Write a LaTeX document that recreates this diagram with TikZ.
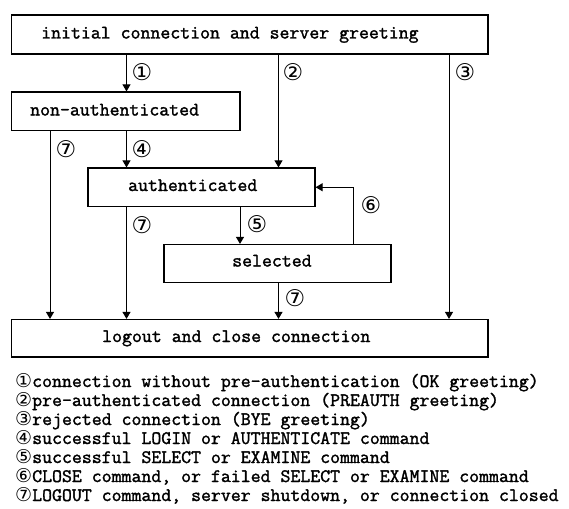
\documentclass[tikz,border=0pt]{standalone}
\usepackage{fontspec}
\usetikzlibrary{arrows.meta}
\newfontfamily\monof[FakeBold=1.6,FakeStretch=1.015]{Latin Modern Mono}
\newfontfamily\circf{DejaVu Sans}
\newcommand{\mtxt}{\monof\fontsize{19pt}{19pt}\selectfont}
\newcommand{\ctxt}{\circf\fontsize{23pt}{23pt}\selectfont}
\newcommand{\cltxt}{\circf\fontsize{19pt}{19pt}\selectfont}
\begin{document}
\begin{tikzpicture}[x=1pt,y=-1pt,
  statebox/.style={draw,line width=1.2pt,inner sep=0pt,anchor=center},
  boxtext/.style={anchor=west,inner sep=0pt,font=\mtxt,text height=12pt,text depth=4pt},
  arr/.style={line width=1pt,-{Triangle[width=8pt,length=7pt]}},
  numlab/.style={inner sep=0pt,font=\ctxt},
  legend/.style={anchor=west,inner sep=0pt,font=\mtxt,text height=12pt,text depth=4pt}]
\useasboundingbox (0,0) rectangle (569,508);
% boxes
\node[statebox,minimum width=476.3pt,minimum height=39pt] (top) at (249.85,34.5) {};
\node[statebox,minimum width=228.3pt,minimum height=38.5pt] (nonauth) at (125.85,111.25) {};
\node[statebox,minimum width=227pt,minimum height=38.5pt] (auth) at (201.5,187.25) {};
\node[statebox,minimum width=227pt,minimum height=38pt] (sel) at (277.5,263.5) {};
\node[statebox,minimum width=476.3pt,minimum height=37.5pt] (logout) at (249.85,338.25) {};
% box texts
\node[boxtext] (ttop) at (41,34.5) {initial connection and server greeting};
\node[boxtext] (tnonauth) at (30,111.5) {non-authenticated};
\node[boxtext] (tauth) at (128,187) {authenticated};
\node[boxtext] (tsel) at (232,262.5) {selected};
\node[boxtext] (tlogout) at (102,338) {logout and close connection};
% columns
\coordinate (ca) at (50,0);
\coordinate (cb) at (126.5,0);
\coordinate (cc) at (240,0);
\coordinate (cd) at (278.5,0);
\coordinate (ce) at (353,0);
\coordinate (cf) at (449,0);
% arrows
\draw[arr] (cb |- top.south) -- (cb |- nonauth.north);
\draw[arr] (cd |- top.south) -- (cd |- auth.north);
\draw[arr] (cf |- top.south) -- (cf |- logout.north);
\draw[arr] (ca |- nonauth.south) -- (ca |- logout.north);
\draw[arr] (cb |- nonauth.south) -- (cb |- auth.north);
\draw[arr] (cb |- auth.south) -- (cb |- logout.north);
\draw[arr] (cc |- auth.south) -- (cc |- sel.north);
\draw[arr] (ce |- sel.north) |- (auth.east);
\draw[arr] (cd |- sel.south) -- (cd |- logout.north);
% arrow labels
\node[numlab] (n1) at (142,72) {①};
\node[numlab] (n2) at (293,72) {②};
\node[numlab] (n3) at (465,72) {③};
\node[numlab] (n7a) at (66,149) {⑦};
\node[numlab] (n4) at (142,149) {④};
\node[numlab] (n7b) at (142,225) {⑦};
\node[numlab] (n5) at (257,224) {⑤};
\node[numlab] (n6) at (371,205) {⑥};
\node[numlab] (n7c) at (295,298) {⑦};
% legend
\node[legend] (g1) at (15,383) {\makebox[17pt][l]{\cltxt ①}connection without pre-authentication (OK greeting)};
\node[legend] (g2) at (15,402) {\makebox[17pt][l]{\cltxt ②}pre-authenticated connection (PREAUTH greeting)};
\node[legend] (g3) at (15,421) {\makebox[17pt][l]{\cltxt ③}rejected connection (BYE greeting)};
\node[legend] (g4) at (15,440) {\makebox[17pt][l]{\cltxt ④}successful LOGIN or AUTHENTICATE command};
\node[legend] (g5) at (15,459) {\makebox[17pt][l]{\cltxt ⑤}successful SELECT or EXAMINE command};
\node[legend] (g6) at (15,478) {\makebox[17pt][l]{\cltxt ⑥}CLOSE command, or failed SELECT or EXAMINE command};
\node[legend] (g7) at (15,497) {\makebox[17pt][l]{\cltxt ⑦}LOGOUT command, server shutdown, or connection closed};
\end{tikzpicture}
\end{document}
